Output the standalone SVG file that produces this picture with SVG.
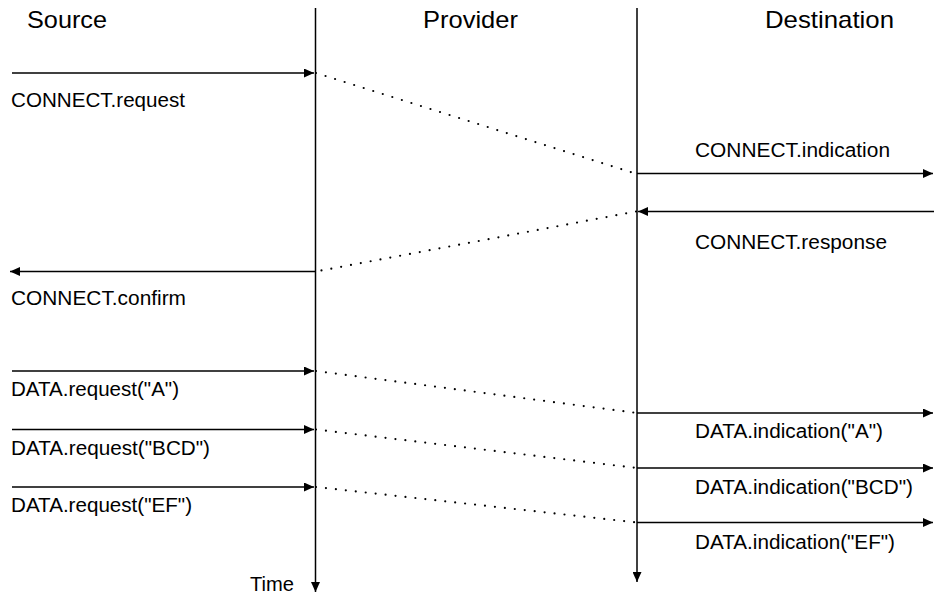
<svg xmlns="http://www.w3.org/2000/svg" width="934" height="596" viewBox="0 0 934 596">
<style>
text { font-family: "Liberation Sans", Arial, Helvetica, sans-serif; fill: #000; }
.hdr { font-size: 24px; }
.lbl { font-size: 20px; }
.msg { stroke: #000; stroke-width: 1.5; fill: none; }
.life { stroke: #000; stroke-width: 1.5; fill: none; }
.dot { stroke: #000; stroke-width: 2.2; stroke-linecap: round; stroke-dasharray: 0 10; fill: none; }
</style>
<defs>
<marker id="ah" viewBox="0 0 10 9" refX="10" refY="4.5" markerWidth="10" markerHeight="9" markerUnits="userSpaceOnUse" orient="auto">
<path d="M0,0 L10,4.5 L0,9 Z" fill="#000"/>
</marker>
</defs>
<rect width="934" height="596" fill="#fff"/>
<g id="source"><text class="hdr" x="27" y="28" textLength="80" lengthAdjust="spacingAndGlyphs">Source</text></g>
<g id="provider"><text class="hdr" x="423" y="28" textLength="95" lengthAdjust="spacingAndGlyphs">Provider</text></g>
<g id="destination"><text class="hdr" x="765" y="28" textLength="129" lengthAdjust="spacingAndGlyphs">Destination</text></g>
<g id="lifelines">
<line class="life" x1="315.5" y1="8" x2="315.5" y2="592" marker-end="url(#ah)"/>
<line class="life" x1="637" y1="8" x2="637" y2="582" marker-end="url(#ah)"/>
</g>
<g id="connectors">
<line class="msg" x1="12" y1="73" x2="314" y2="73" marker-end="url(#ah)"/>
<line class="dot" x1="316" y1="73" x2="637" y2="174"/>
<line class="msg" x1="637" y1="173.5" x2="933" y2="173.5" marker-end="url(#ah)"/>
<line class="msg" x1="934" y1="211.5" x2="638" y2="211.5" marker-end="url(#ah)"/>
<line class="dot" x1="636" y1="211.5" x2="316" y2="271.5"/>
<line class="msg" x1="315" y1="271.5" x2="10" y2="271.5" marker-end="url(#ah)"/>
<line class="msg" x1="12" y1="371" x2="314" y2="371" marker-end="url(#ah)"/>
<line class="dot" x1="316" y1="371" x2="637" y2="413"/>
<line class="msg" x1="637" y1="413" x2="933" y2="413" marker-end="url(#ah)"/>
<line class="msg" x1="12" y1="429.5" x2="314" y2="429.5" marker-end="url(#ah)"/>
<line class="dot" x1="316" y1="429.5" x2="637" y2="468"/>
<line class="msg" x1="637" y1="468" x2="933" y2="468" marker-end="url(#ah)"/>
<line class="msg" x1="12" y1="487" x2="314" y2="487" marker-end="url(#ah)"/>
<line class="dot" x1="316" y1="487" x2="637" y2="522.5"/>
<line class="msg" x1="637" y1="522.5" x2="933" y2="522.5" marker-end="url(#ah)"/>
</g>
<g id="labels">
<text class="lbl" x="11" y="107" textLength="174" lengthAdjust="spacingAndGlyphs">CONNECT.request</text>
<text class="lbl" x="695" y="157" textLength="195" lengthAdjust="spacingAndGlyphs">CONNECT.indication</text>
<text class="lbl" x="695" y="249" textLength="192" lengthAdjust="spacingAndGlyphs">CONNECT.response</text>
<text class="lbl" x="11" y="305" textLength="175" lengthAdjust="spacingAndGlyphs">CONNECT.confirm</text>
<text class="lbl" x="11" y="396" textLength="168" lengthAdjust="spacingAndGlyphs">DATA.request("A")</text>
<text class="lbl" x="11" y="455" textLength="199" lengthAdjust="spacingAndGlyphs">DATA.request("BCD")</text>
<text class="lbl" x="11" y="512" textLength="181" lengthAdjust="spacingAndGlyphs">DATA.request("EF")</text>
<text class="lbl" x="695" y="438" textLength="188" lengthAdjust="spacingAndGlyphs">DATA.indication("A")</text>
<text class="lbl" x="695" y="494" textLength="218" lengthAdjust="spacingAndGlyphs">DATA.indication("BCD")</text>
<text class="lbl" x="695" y="549" textLength="200" lengthAdjust="spacingAndGlyphs">DATA.indication("EF")</text>
<text class="lbl" x="250" y="591" textLength="44" lengthAdjust="spacingAndGlyphs">Time</text>
</g>
</svg>
